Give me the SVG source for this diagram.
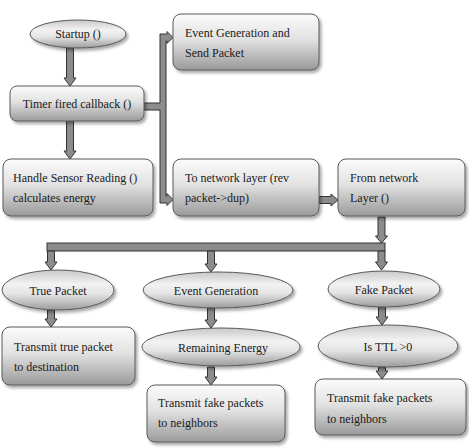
<svg xmlns="http://www.w3.org/2000/svg" width="469" height="448" viewBox="0 0 469 448">
<defs>
<linearGradient id="gBox" x1="0" y1="0" x2="0" y2="1">
<stop offset="0" stop-color="#fbfbfb"/>
<stop offset="0.45" stop-color="#e2e2e2"/>
<stop offset="1" stop-color="#9a9a9a"/>
</linearGradient>
<linearGradient id="gEll" x1="0" y1="0" x2="0" y2="1">
<stop offset="0" stop-color="#c8c8c8"/>
<stop offset="0.35" stop-color="#f2f2f2"/>
<stop offset="0.6" stop-color="#e4e4e4"/>
<stop offset="1" stop-color="#9c9c9c"/>
</linearGradient>
<filter id="sh" x="-10%" y="-10%" width="125%" height="135%">
<feDropShadow dx="2" dy="2.5" stdDeviation="1.5" flood-color="#000" flood-opacity="0.35"/>
</filter>
</defs>
<style>
.box{fill:url(#gBox);stroke:#5a5a5a;stroke-width:1;filter:url(#sh)}
.ell{fill:url(#gEll);stroke:#5a5a5a;stroke-width:1;filter:url(#sh)}
.t{font-family:"Liberation Serif","Times New Roman",serif;font-size:12px;fill:#1a1a1a}
.c{text-anchor:middle}
.arr{fill:#8c8c8c;stroke:#333;stroke-width:1;stroke-linejoin:miter}
</style>
<rect width="469" height="448" fill="#fff"/>

<g id="connectors">
<path class="arr" d="M66.5,48 H73.5 V78 H76 L70,86 L64,78 H66.5 Z"/>
<path class="arr" d="M66.5,121 H73.5 V151 H76 L70,159 L64,151 H66.5 Z"/>
<path class="arr" d="M144,103 H160 V34 H167 V31.5 L173,37.5 L167,43.5 V41 H166 V196 H167 V193.5 L173,199.5 L167,205.5 V203 H160 V110 H144 Z"/>
<path class="arr" d="M319,196.5 H331 V194 L338,200 L331,206 V203.5 H319 Z"/>
<path class="arr" d="M378,217 H385 V236 H387.5 L381.5,243 L375.5,236 H378 Z"/>
<rect class="arr" x="47" y="243" width="338" height="8"/>
<path class="arr" d="M47.5,251 H54.5 V262 H57 L51,270 L45,262 H47.5 Z"/>
<path class="arr" d="M207.5,251 H214.5 V264 H217 L211,272 L205,264 H207.5 Z"/>
<path class="arr" d="M378,251 H385 V262 H387.5 L381.5,270 L375.5,262 H378 Z"/>
<path class="arr" d="M47.5,310 H54.5 V319 H57 L51,327 L45,319 H47.5 Z"/>
<path class="arr" d="M207.5,308 H214.5 V320 H217 L211,328 L205,320 H207.5 Z"/>
<path class="arr" d="M207.5,367 H214.5 V377 H217 L211,385 L205,377 H207.5 Z"/>
<path class="arr" d="M378.5,307 H385.5 V317 H388 L382,325 L376,317 H378.5 Z"/>
<path class="arr" d="M378.5,367 H385.5 V371 H388 L382,379 L376,371 H378.5 Z"/>
</g>

<g id="startup">
<ellipse class="ell" cx="78" cy="34" rx="48" ry="14"/>
<text class="t c" x="78" y="38">Startup ()</text>
</g>
<g id="timer">
<rect class="box" x="10" y="86" width="134" height="35" rx="7"/>
<text class="t c" x="77" y="108">Timer fired callback ()</text>
</g>
<g id="handle">
<rect class="box" x="3" y="159" width="150" height="57" rx="8"/>
<text class="t" x="13" y="182">Handle Sensor Reading ()</text>
<text class="t" x="13" y="202">calculates energy</text>
</g>
<g id="eventgen">
<rect class="box" x="173" y="14" width="146" height="56" rx="8"/>
<text class="t" x="185" y="37">Event Generation and</text>
<text class="t" x="185" y="57">Send Packet</text>
</g>
<g id="tonetwork">
<rect class="box" x="173" y="159" width="146" height="57" rx="8"/>
<text class="t" x="185" y="182">To network layer (rev</text>
<text class="t" x="185" y="202">packet-&gt;dup)</text>
</g>
<g id="fromnetwork">
<rect class="box" x="338" y="159" width="127" height="57" rx="8"/>
<text class="t" x="350" y="182">From network</text>
<text class="t" x="350" y="202">Layer ()</text>
</g>
<g id="truepacket">
<ellipse class="ell" cx="58" cy="290" rx="56" ry="20"/>
<text class="t c" x="58" y="295">True Packet</text>
</g>
<g id="eventgeneration">
<ellipse class="ell" cx="218" cy="290" rx="75" ry="18"/>
<text class="t c" x="216" y="295">Event Generation</text>
</g>
<g id="fakepacket">
<ellipse class="ell" cx="384" cy="289" rx="56" ry="18"/>
<text class="t c" x="384" y="294">Fake Packet</text>
</g>
<g id="transmittrue">
<rect class="box" x="2" y="327" width="133" height="58" rx="8"/>
<text class="t" x="14" y="351">Transmit true packet</text>
<text class="t" x="14" y="371">to destination</text>
</g>
<g id="remaining">
<ellipse class="ell" cx="221" cy="347" rx="79" ry="19"/>
<text class="t c" x="223" y="352">Remaining Energy</text>
</g>
<g id="ttl">
<ellipse class="ell" cx="388" cy="346" rx="70" ry="21"/>
<text class="t c" x="388" y="351">Is TTL &gt;0</text>
</g>
<g id="transmitfake1">
<rect class="box" x="147" y="385" width="138" height="57" rx="8"/>
<text class="t" x="158" y="407">Transmit fake packets</text>
<text class="t" x="158" y="427">to neighbors</text>
</g>
<g id="transmitfake2">
<rect class="box" x="315" y="379" width="151" height="56" rx="8"/>
<text class="t" x="327" y="402">Transmit fake packets</text>
<text class="t" x="327" y="423">to neighbors</text>
</g>
</svg>
